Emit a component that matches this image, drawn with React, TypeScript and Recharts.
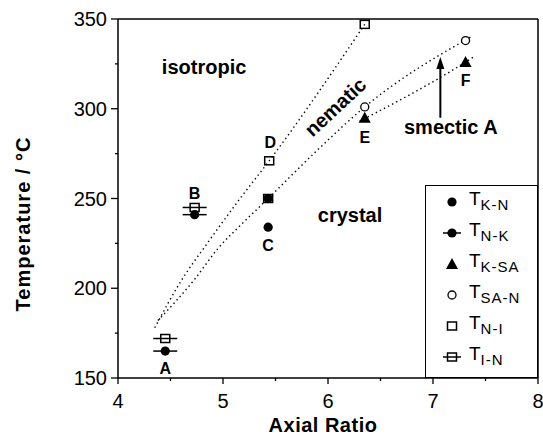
import React from 'react';
import { ComposedChart, Scatter, Line, XAxis, YAxis, ReferenceLine, ReferenceDot, Label } from 'recharts';

const FONT = '"Liberation Sans", Arial, Helvetica, sans-serif';

// axis ticks
const xTicks = [4, 4.5, 5, 5.5, 6, 6.5, 7, 7.5, 8];
const yTicks = [150, 175, 200, 225, 250, 275, 300, 325, 350];

// transition temperatures (axial ratio, °C)
const tKN = [{ x: 5.43, y: 234 }, { x: 5.43, y: 250 }];
const tNK = [{ x: 4.45, y: 165 }, { x: 4.73, y: 241 }];
const tKSA = [{ x: 6.35, y: 295 }, { x: 7.31, y: 326 }];
const tSAN = [{ x: 6.35, y: 301 }, { x: 7.31, y: 338 }];
const tNI = [{ x: 5.44, y: 271 }, { x: 5.43, y: 250 }, { x: 6.35, y: 347 }];
const tIN = [{ x: 4.45, y: 172 }, { x: 4.73, y: 245 }];

// dotted phase boundaries
const isoNematic = [
  { x: 4.35, y: 178 }, { x: 4.6, y: 204 }, { x: 4.85, y: 225 },
  { x: 5.15, y: 249 }, { x: 5.44, y: 271 }, { x: 6.35, y: 347 },
];
const nematicLow = [
  { x: 4.38, y: 182 }, { x: 4.73, y: 205 }, { x: 4.95, y: 222 }, { x: 5.2, y: 237 },
  { x: 5.43, y: 250 }, { x: 5.9, y: 277 }, { x: 6.35, y: 301 }, { x: 7.36, y: 340 },
];
const smecticLow = [{ x: 6.3, y: 293 }, { x: 7.31, y: 326 }, { x: 7.39, y: 329 }];

// compound labels
const compounds = [
  { name: 'A', x: 4.45, y: 155.5 },
  { name: 'B', x: 4.73, y: 253 },
  { name: 'C', x: 5.43, y: 224 },
  { name: 'D', x: 5.45, y: 281 },
  { name: 'E', x: 6.35, y: 284 },
  { name: 'F', x: 7.31, y: 316 },
];

const legendItems = [
  { key: 'fc', sub: 'K-N' },
  { key: 'fcbar', sub: 'N-K' },
  { key: 'tri', sub: 'K-SA' },
  { key: 'oc', sub: 'SA-N' },
  { key: 'sq', sub: 'N-I' },
  { key: 'sqbar', sub: 'I-N' },
];

const FilledCircle = (p: any) => <circle cx={p.cx} cy={p.cy} r={4.6} fill="#000" />;
const FilledCircleBar = (p: any) => {
  const w = p.bar ?? 12;
  return (
    <g>
      <line x1={p.cx - w} x2={p.cx + w} y1={p.cy} y2={p.cy} stroke="#000" strokeWidth={1.5} />
      <circle cx={p.cx} cy={p.cy} r={4.6} fill="#000" />
    </g>
  );
};
const Triangle = (p: any) => (
  <polygon points={`${p.cx},${p.cy - 6} ${p.cx - 6},${p.cy + 5} ${p.cx + 6},${p.cy + 5}`} fill="#000" />
);
const OpenCircle = (p: any) => <circle cx={p.cx} cy={p.cy} r={4} fill="#fff" stroke="#000" strokeWidth={1.3} />;
const OpenSquare = (p: any) => (
  <rect x={p.cx - 4.5} y={p.cy - 4} width={9} height={8} fill="none" stroke="#000" strokeWidth={1.5} />
);
const OpenSquareBar = (p: any) => {
  const w = p.bar ?? 12;
  return (
    <g>
      <line x1={p.cx - w} x2={p.cx + w} y1={p.cy} y2={p.cy} stroke="#000" strokeWidth={1.5} />
      <rect x={p.cx - 4.5} y={p.cy - 4} width={9} height={8} fill="none" stroke="#000" strokeWidth={1.5} />
    </g>
  );
};

const XTick = (p: any) => {
  const v = p.payload.value;
  const major = Number.isInteger(v);
  return (
    <g>
      <line x1={p.x} x2={p.x} y1={p.y} y2={p.y + (major ? 6 : 3)} stroke="#000" strokeWidth={1.3} />
      {major && (
        <text x={p.x} y={p.y + 30} textAnchor="middle" fontSize={20} fontFamily={FONT} fill="#000">
          {v}
        </text>
      )}
    </g>
  );
};

const YTick = (p: any) => {
  const v = p.payload.value;
  const major = v % 50 === 0;
  return (
    <g>
      <line x1={p.x} x2={p.x - (major ? 7 : 3)} y1={p.y} y2={p.y} stroke="#000" strokeWidth={1.3} />
      {major && (
        <text x={p.x - 11} y={p.y} dy="0.36em" textAnchor="end" fontSize={20} fontFamily={FONT} fill="#000">
          {v}
        </text>
      )}
    </g>
  );
};

const textShape = (txt: string, size: number, rotate = 0) => (p: any) => (
  <text
    x={p.cx}
    y={p.cy}
    dy="0.35em"
    textAnchor="middle"
    fontSize={size}
    fontWeight="bold"
    fontFamily={FONT}
    fill="#000"
    transform={rotate ? `rotate(${rotate}, ${p.cx}, ${p.cy})` : undefined}
  >
    {txt}
  </text>
);

const LegendMarker = ({ kind }: { kind: string }) => {
  const c = { cx: 13, cy: 10, bar: 9 };
  return (
    <svg width={26} height={20} style={{ display: 'block' }}>
      {kind === 'fc' && <FilledCircle {...c} />}
      {kind === 'fcbar' && <FilledCircleBar {...c} />}
      {kind === 'tri' && <Triangle {...c} />}
      {kind === 'oc' && <OpenCircle {...c} />}
      {kind === 'sq' && <OpenSquare {...c} />}
      {kind === 'sqbar' && <OpenSquareBar {...c} />}
    </svg>
  );
};

export default function App() {
  return (
    <div style={{ position: 'absolute', left: 0, top: 0, width: 543, height: 446, background: '#fff' }}>
      <ComposedChart width={543} height={446} margin={{ top: 19, right: 5, bottom: 8, left: 0 }}>
        <XAxis
          type="number"
          dataKey="x"
          domain={[4, 8]}
          ticks={xTicks}
          interval={0}
          height={60}
          tickSize={0}
          tickMargin={0}
          tickLine={false}
          tick={<XTick />}
          axisLine={{ stroke: '#000', strokeWidth: 1.5 }}
          allowDataOverflow
        >
          <Label
            content={() => (
              <text x={323} y={432} textAnchor="middle" fontSize={20} fontWeight="bold" fontFamily={FONT} fill="#000" letterSpacing={0.5}>
                Axial Ratio
              </text>
            )}
          />
        </XAxis>
        <YAxis
          type="number"
          dataKey="y"
          domain={[150, 350]}
          ticks={yTicks}
          interval={0}
          width={118}
          tickSize={0}
          tickMargin={0}
          tickLine={false}
          tick={<YTick />}
          axisLine={{ stroke: '#000', strokeWidth: 1.5 }}
          allowDataOverflow
        >
          <Label
            content={() => (
              <text
                x={30}
                y={224}
                textAnchor="middle"
                fontSize={20}
                fontWeight="bold"
                fontFamily={FONT}
                fill="#000"
                letterSpacing={1}
                transform="rotate(-90, 30, 224)"
              >
                Temperature / °C
              </text>
            )}
          />
        </YAxis>
        <ReferenceLine y={350} stroke="#000" strokeWidth={1.5} />
        <ReferenceLine x={8} stroke="#000" strokeWidth={1.5} />

        <Line data={isoNematic} dataKey="y" type="monotone" stroke="#000" strokeWidth={1.4} strokeDasharray="1.4 3.2" dot={false} isAnimationActive={false} />
        <Line data={nematicLow} dataKey="y" type="monotone" stroke="#000" strokeWidth={1.4} strokeDasharray="1.4 3.2" dot={false} isAnimationActive={false} />
        <Line data={smecticLow} dataKey="y" type="monotone" stroke="#000" strokeWidth={1.4} strokeDasharray="1.4 3.2" dot={false} isAnimationActive={false} />

        <ReferenceLine segment={[{ x: 7.07, y: 295 }, { x: 7.07, y: 324 }]} stroke="#000" strokeWidth={2} />
        <ReferenceDot
          x={7.07}
          y={326}
          r={0}
          shape={(p: any) => (
            <polygon points={`${p.cx},${p.cy - 5} ${p.cx - 4},${p.cy + 7} ${p.cx + 4},${p.cy + 7}`} fill="#000" />
          )}
        />

        <Scatter data={tKN} shape={<FilledCircle />} isAnimationActive={false} />
        <Scatter data={tNK} shape={<FilledCircleBar />} isAnimationActive={false} />
        <Scatter data={tKSA} shape={<Triangle />} isAnimationActive={false} />
        <Scatter data={tSAN} shape={<OpenCircle />} isAnimationActive={false} />
        <Scatter data={tNI} shape={<OpenSquare />} isAnimationActive={false} />
        <Scatter data={tIN} shape={<OpenSquareBar />} isAnimationActive={false} />

        {compounds.map((c) => (
          <ReferenceDot key={c.name} x={c.x} y={c.y} r={0} shape={textShape(c.name, 16)} />
        ))}
        <ReferenceDot x={4.82} y={323} r={0} shape={textShape('isotropic', 20)} />
        <ReferenceDot x={6.07} y={301} r={0} shape={textShape('nematic', 20, -43)} />
        <ReferenceDot x={7.17} y={290} r={0} shape={textShape('smectic A', 20)} />
        <ReferenceDot x={6.21} y={241} r={0} shape={textShape('crystal', 20)} />
      </ComposedChart>

      <div
        style={{
          position: 'absolute',
          left: 425,
          top: 185,
          width: 113,
          height: 193,
          border: '1.5px solid #000',
          background: '#fff',
          fontFamily: FONT,
          boxSizing: 'border-box',
        }}
      >
        {legendItems.map((it, i) => (
          <div
            key={it.key}
            style={{ position: 'absolute', left: 13, top: 6 + i * 31, height: 20, display: 'flex', alignItems: 'center' }}
          >
            <LegendMarker kind={it.key} />
            <span style={{ fontSize: 19, marginLeft: 4, lineHeight: '20px', whiteSpace: 'nowrap' }}>
              T<sub style={{ fontSize: 15, letterSpacing: 1, verticalAlign: '-5px' }}>{it.sub}</sub>
            </span>
          </div>
        ))}
      </div>
    </div>
  );
}
